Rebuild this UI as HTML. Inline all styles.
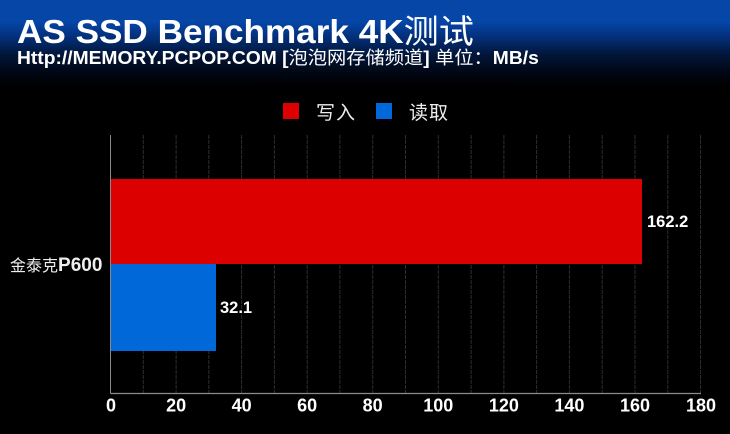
<!DOCTYPE html>
<html><head><meta charset="utf-8">
<style>
html,body{margin:0;padding:0;background:#000;}
svg{display:block;}
</style></head>
<body>
<svg width="730" height="434" viewBox="0 0 730 434" xmlns="http://www.w3.org/2000/svg" font-family="'Liberation Sans','Noto Sans CJK SC',sans-serif">
  <defs>
    <linearGradient id="hdr" x1="0" y1="0" x2="0" y2="1">
      <stop offset="0" stop-color="#0546a6"/>
      <stop offset="0.25" stop-color="#0546a6"/>
      <stop offset="0.42" stop-color="#04307a"/>
      <stop offset="0.62" stop-color="#02163a"/>
      <stop offset="0.85" stop-color="#010510"/>
      <stop offset="1" stop-color="#000"/>
    </linearGradient>
  </defs>
  <rect x="0" y="0" width="730" height="434" fill="#000"/>
  <rect x="0" y="0" width="730" height="88" fill="url(#hdr)"/>

  <!-- Title -->
  <text transform="translate(17,43) scale(1.065,1)" font-size="33" font-weight="bold" fill="#fff">AS SSD Benchmark 4K<tspan font-weight="normal">测试</tspan></text>
  <text transform="translate(17,64) scale(1.07,1)" font-size="18" font-weight="bold" fill="#fff">Http://MEMORY.PCPOP.COM [<tspan font-weight="normal">泡泡网存储频道</tspan>] <tspan font-weight="normal">单位：</tspan>MB/s</text>

  <!-- Legend -->
  <rect x="283" y="103" width="16" height="16" fill="#dd0000"/>
  <text x="316" y="119" font-size="19" fill="#eee" letter-spacing="1">写入</text>
  <rect x="376" y="103" width="16" height="16" fill="#0068d8"/>
  <text x="409" y="119" font-size="19" fill="#eee" letter-spacing="1">读取</text>

  <!-- Grid lines -->
  <g stroke="#2e2e2e" stroke-width="1" stroke-dasharray="4,1">
    <line x1="143.3" y1="135" x2="143.3" y2="393"/>
    <line x1="176.1" y1="135" x2="176.1" y2="393"/>
    <line x1="208.8" y1="135" x2="208.8" y2="393"/>
    <line x1="241.6" y1="135" x2="241.6" y2="393"/>
    <line x1="274.4" y1="135" x2="274.4" y2="393"/>
    <line x1="307.2" y1="135" x2="307.2" y2="393"/>
    <line x1="339.9" y1="135" x2="339.9" y2="393"/>
    <line x1="372.7" y1="135" x2="372.7" y2="393"/>
    <line x1="405.5" y1="135" x2="405.5" y2="393"/>
    <line x1="438.3" y1="135" x2="438.3" y2="393"/>
    <line x1="471.1" y1="135" x2="471.1" y2="393"/>
    <line x1="503.9" y1="135" x2="503.9" y2="393"/>
    <line x1="536.6" y1="135" x2="536.6" y2="393"/>
    <line x1="569.4" y1="135" x2="569.4" y2="393"/>
    <line x1="602.2" y1="135" x2="602.2" y2="393"/>
    <line x1="635.0" y1="135" x2="635.0" y2="393"/>
    <line x1="667.8" y1="135" x2="667.8" y2="393"/>
    <line x1="700.5" y1="135" x2="700.5" y2="393"/>
  </g>

  <!-- Bars -->
  <rect x="111" y="179" width="531" height="85" fill="#dd0000"/>
  <rect x="111" y="264" width="105" height="87" fill="#0068d8"/>

  <!-- Axes -->
  <line x1="110.5" y1="135" x2="110.5" y2="393.5" stroke="#8a8a8a" stroke-width="1"/>
  <line x1="110.5" y1="393.5" x2="701" y2="393.5" stroke="#8a8a8a" stroke-width="1.2"/>

  <!-- Value labels -->
  <text x="647" y="227" font-size="16.5" font-weight="bold" fill="#fff">162.2</text>
  <text x="220" y="313" font-size="16.5" font-weight="bold" fill="#fff">32.1</text>

  <!-- Category label -->
  <text x="10" y="271" fill="#eee"><tspan font-size="16">金泰克</tspan><tspan font-size="19" font-weight="bold">P600</tspan></text>

  <!-- Tick labels -->
  <g font-size="18" font-weight="bold" fill="#fff" text-anchor="middle">
    <text x="111" y="411.5">0</text>
    <text x="176.1" y="411.5">20</text>
    <text x="241.6" y="411.5">40</text>
    <text x="307.2" y="411.5">60</text>
    <text x="372.7" y="411.5">80</text>
    <text x="438.3" y="411.5">100</text>
    <text x="503.9" y="411.5">120</text>
    <text x="569.4" y="411.5">140</text>
    <text x="635.0" y="411.5">160</text>
    <text x="701" y="411.5">180</text>
  </g>
</svg>
</body></html>
